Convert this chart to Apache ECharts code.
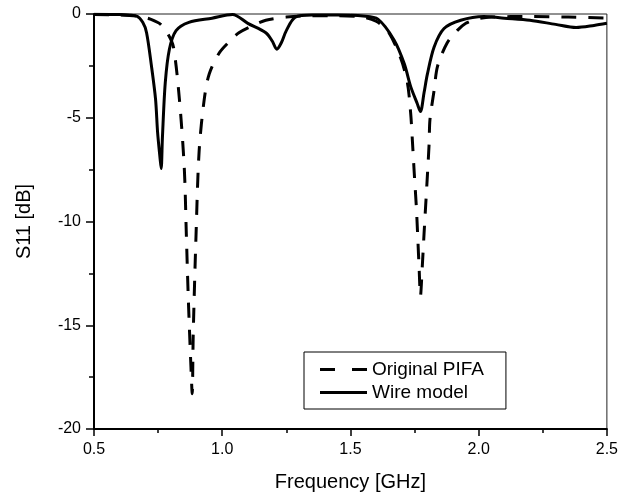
<!DOCTYPE html>
<html>
<head>
<meta charset="utf-8">
<script src="https://cdn.jsdelivr.net/npm/echarts@6/dist/echarts.min.js"></script>
<style>
html,body{margin:0;padding:0;background:#fff;}
#c{width:621px;height:498px;}
</style>
</head>
<body>
<div id="c"></div>
<script>
var xTicks = [0.5, 1.0, 1.5, 2.0, 2.5];
var yTicks = [0, -5, -10, -15, -20];
var seriesNames = ['Original PIFA', 'Wire model'];

var pifaFreq = [0.50,0.60,0.68,0.72,0.76,0.79,0.81,0.833,0.852,0.86,0.868,0.878,0.883,0.887,0.898,0.91,0.93,0.949,0.987,1.03,1.065,1.12,1.17,1.25,1.35,1.45,1.55,1.60,1.645,1.695,1.722,1.735,1.742,1.749,1.757,1.763,1.768,1.773,1.78,1.787,1.80,1.807,1.81,1.826,1.84,1.877,1.916,1.95,1.99,2.05,2.2,2.35,2.5];
var pifaS11 = [-0.02,-0.05,-0.12,-0.25,-0.5,-1.0,-1.6,-4.1,-7.4,-10.6,-13.8,-17.0,-18.3,-15.4,-10.6,-6.6,-4.1,-2.9,-1.9,-1.3,-0.9,-0.55,-0.3,-0.15,-0.08,-0.08,-0.15,-0.35,-0.8,-2.1,-3.3,-4.8,-6.2,-7.7,-9.3,-10.9,-12.3,-13.6,-12.2,-10.6,-7.8,-6.2,-5.1,-3.7,-2.5,-1.4,-0.8,-0.45,-0.25,-0.15,-0.12,-0.15,-0.2];

var wireFreq = [0.50,0.60,0.666,0.69,0.705,0.724,0.74,0.748,0.758,0.762,0.767,0.778,0.794,0.82,0.87,0.96,1.04,1.10,1.17,1.195,1.213,1.23,1.25,1.285,1.35,1.45,1.55,1.607,1.67,1.71,1.735,1.76,1.773,1.787,1.80,1.826,1.865,1.93,2.02,2.10,2.20,2.30,2.38,2.45,2.5];
var wireS11 = [-0.01,-0.03,-0.1,-0.4,-0.9,-2.5,-4.1,-5.7,-7.0,-7.45,-5.9,-3.3,-1.7,-0.8,-0.4,-0.2,-0.02,-0.45,-0.9,-1.3,-1.7,-1.4,-0.8,-0.15,-0.05,-0.05,-0.1,-0.25,-1.25,-2.4,-3.5,-4.3,-4.7,-3.8,-2.9,-1.6,-0.7,-0.3,-0.12,-0.2,-0.3,-0.5,-0.65,-0.55,-0.45];

function pairs(xs, ys){ return xs.map(function(x,i){ return [x, ys[i]]; }); }

var font = 'Liberation Sans, Arial, sans-serif';
var chart = echarts.init(document.getElementById('c'), null, {renderer:'canvas'});
chart.setOption({
  animation: false,
  backgroundColor: '#fff',
  textStyle: {fontFamily: font, color: '#000'},
  grid: {left: 94, right: 10, top: 14, bottom: 69, show: true, borderColor: '#222', borderWidth: 1, backgroundColor: 'transparent'},
  legend: {
    left: 304, top: 352, orient: 'vertical',
    itemWidth: 47, itemHeight: 19, itemGap: 4,
    symbolKeepAspect: true,
    padding: [8, 22, 7, 16],
    borderColor: '#000', borderWidth: 1, borderRadius: 0,
    textStyle: {fontFamily: font, fontSize: 19, color: '#000'},
    data: [
      {name: seriesNames[0], icon: 'path://M0,0H15V3H0ZM32,0H47V3H32Z', itemStyle: {color: '#000'}},
      {name: seriesNames[1], icon: 'path://M0,0H47V3H0Z', itemStyle: {color: '#000'}}
    ]
  },
  xAxis: {
    type: 'value', min: 0.5, max: 2.5, interval: 0.5,
    name: 'Frequency [GHz]', nameLocation: 'middle', nameGap: 43,
    nameTextStyle: {fontFamily: font, fontSize: 20, color: '#000'},
    axisLine: {show: true, onZero: false, lineStyle: {color: '#000', width: 2}},
    axisTick: {show: true, inside: false, length: 7, lineStyle: {color: '#000', width: 1.5}},
    minorTick: {show: true, splitNumber: 2, length: 4, lineStyle: {color: '#000', width: 1.5}},
    splitLine: {show: false},
    axisLabel: {fontFamily: font, fontSize: 16, color: '#000', margin: 13,
      formatter: function(v){ var t = xTicks.filter(function(k){return Math.abs(k-v)<1e-9;}); return t.length ? t[0].toFixed(1) : ''; }}
  },
  yAxis: {
    type: 'value', min: -20, max: 0, interval: 5,
    name: 'S11 [dB]', nameLocation: 'middle', nameGap: 60, nameRotate: 90,
    nameTextStyle: {fontFamily: font, fontSize: 20, color: '#000'},
    axisLine: {show: true, onZero: false, lineStyle: {color: '#000', width: 2}},
    axisTick: {show: true, inside: false, length: 8, lineStyle: {color: '#000', width: 1.5}},
    minorTick: {show: true, splitNumber: 2, length: 5, lineStyle: {color: '#000', width: 1.5}},
    splitLine: {show: false},
    axisLabel: {fontFamily: font, fontSize: 16, color: '#000', margin: 13,
      formatter: function(v){ var t = yTicks.filter(function(k){return Math.abs(k-v)<1e-9;}); return t.length ? String(t[0]) : ''; }}
  },
  series: [
    {name: seriesNames[0], type: 'line', data: pairs(pifaFreq, pifaS11), showSymbol: false, symbol: 'none', smooth: 0.3,
     lineStyle: {color: '#000', width: 3, type: [15, 12]}, itemStyle: {color: '#000'}},
    {name: seriesNames[1], type: 'line', data: pairs(wireFreq, wireS11), showSymbol: false, symbol: 'none', smooth: 0.3,
     lineStyle: {color: '#000', width: 3, type: 'solid'}, itemStyle: {color: '#000'}}
  ]
});
</script>
</body>
</html>
